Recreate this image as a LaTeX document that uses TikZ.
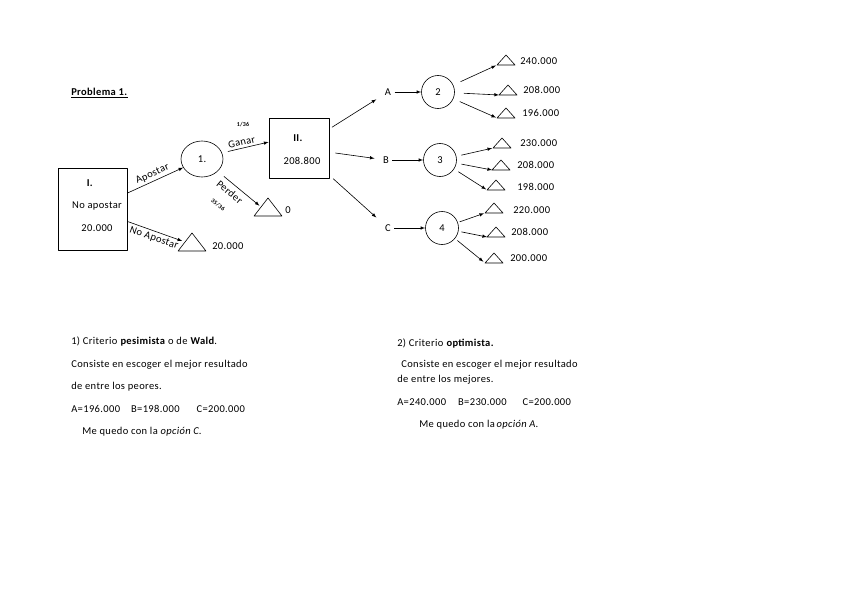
\documentclass[tikz,border=0pt]{standalone}
\usepackage{fontspec}
\setmainfont{Carlito}[LetterSpace=3.5]
\usetikzlibrary{shapes.geometric,positioning}
\tikzset{
  chance/.style={draw,circle,minimum size=33pt,inner sep=0pt},
  decbox/.style={draw,line width=0.9pt},
  endtri/.pic={
    \draw (-9,5) coordinate (-l) -- (9,5) coordinate (-r) -- (0,-5) coordinate (-a) -- cycle;
    \coordinate (-m) at (-4.5,0);
  },
  bigtri/.style={xscale=1.55,yscale=1.8},
  txt/.style={anchor=west,inner sep=0pt},
  tiny/.style={font=\fontsize{6}{7}\selectfont\bfseries,inner sep=0pt},
}
\begin{document}
\begin{tikzpicture}[x=1pt,y=-1pt,font=\fontsize{10.5}{12}\selectfont,>=latex,line width=0.6pt,line join=round]
	\useasboundingbox (0,0) rectangle (848,599);
	\node[txt] (title) at (71,93) {\underline{\textbf{Problema 1.}}};
	% first decision
	\node[decbox,minimum width=69pt,minimum height=82pt] (boxI) at (92.5,209) {};
	\node (lI) at (90,183) {\textbf{I.}};
	\node (lnoap) at (97,206) {No apostar};
	\node (lv1) at (97,228) {20.000};
	\node[draw,ellipse,minimum width=42pt,minimum height=36pt,inner sep=0pt] (c1) at (202,159) {1.};
	\pic[bigtri] (t0) at (268,207) {endtri};
	\node[txt] (v0) at (285,210) {0};
	\pic[bigtri] (tna) at (192,242) {endtri};
	\node[txt] (vna) at (212,246) {20.000};
	\draw[->] (boxI) -- node[sloped,above=-1pt] (lap) {Apostar} (c1);
	\draw[->,shorten >=3pt] (boxI) -- node[sloped,below=-1pt] (lnap) {No Apostar} (tna-m);
	% second decision
	\node[decbox,minimum width=60pt,minimum height=60pt] (boxII) at (299,148) {};
	\node (lII) at (298,138) {\textbf{II.}};
	\node (lv2) at (302,161) {208.800};
	\draw[->,shorten <=6pt] (c1.17) -- node[sloped,above=-1pt,pos=0.45] (lgan) {Ganar} (boxII.169);
	\node[tiny] (pgan) at (243,125) {1/36};
	\draw[->,shorten <=8pt,shorten >=2pt] (c1.-38) -- node[sloped,below=1pt,pos=0.4] (lper) {Perder} (t0-m);
	\node[tiny,rotate=-38] (pper) at (218,205) {35/36};
	\node (A) at (388,92) {A};
	\node (B) at (386,160) {B};
	\node (C) at (388,228) {C};
	\draw[->,shorten <=3pt,shorten >=6pt] (boxII) -- (A);
	\draw[->,shorten <=6pt,shorten >=5pt] (boxII) -- (B);
	\draw[->,shorten <=5pt,shorten >=7pt] (boxII) -- (C);
	\node[chance] (c2) at (438,92) {2};
	\node[chance] (c3) at (440,160) {3};
	\node[chance] (c4) at (442,228) {4};
	\draw[->] (A) -- (c2);
	\draw[->] (B) -- (c3);
	\draw[->] (C) -- (c4);
	% outcomes
	\pic (t21) at (506,60) {endtri};
	\pic (t22) at (508,90) {endtri};
	\pic (t23) at (506,113) {endtri};
	\pic (t31) at (502,143) {endtri};
	\pic (t32) at (501,165) {endtri};
	\pic (t33) at (496,185) {endtri};
	\pic (t41) at (494,208) {endtri};
	\pic (t42) at (496,232) {endtri};
	\pic (t43) at (494,258) {endtri};
	\node[txt] (v21) at (520,61) {240.000};
	\node[txt] (v22) at (523,90) {208.000};
	\node[txt] (v23) at (522,113) {196.000};
	\node[txt] (v31) at (520,143) {230.000};
	\node[txt] (v32) at (517,165) {208.000};
	\node[txt] (v33) at (517,187) {198.000};
	\node[txt] (v41) at (513,210) {220.000};
	\node[txt] (v42) at (511,232) {208.000};
	\node[txt] (v43) at (510,258) {200.000};
	\draw[->,shorten <=8pt,shorten >=1pt] (c2) -- (t21-l);
	\draw[->,shorten <=9pt] (c2) -- (t22-l);
	\draw[->,shorten <=7pt,shorten >=1pt] (c2) -- (t23-l);
	\draw[->,shorten <=5pt,shorten >=1pt] (c3) -- (t31-l);
	\draw[->,shorten <=5pt] (c3) -- (t32-l);
	\draw[->,shorten <=5pt,shorten >=1pt] (c3) -- (t33-l);
	\draw[->,shorten <=2pt,shorten >=1pt] (c4) -- (t41-l);
	\draw[->,shorten <=3pt] (c4) -- (t42-l);
	\draw[->,shorten <=3pt,shorten >=2pt] (c4) -- (t43-l);
	% criteria
	\node[txt] (p1) at (71,341) {1) Criterio \textbf{pesimista} o de \textbf{Wald}.};
	\node[txt] (p2) at (71,365) {Consiste en escoger el mejor resultado};
	\node[txt] (p3) at (71,387) {de entre los peores.};
	\node[txt] (p4) at (71,409) {A=196.000\hspace{11pt}B=198.000\hspace{17pt}C=200.000};
	\node[txt] (p5) at (82,432) {Me quedo con la \textit{opción C}.};
	\node[txt] (o1) at (397,343) {2) Criterio \textbf{optimista.}};
	\node[txt] (o2) at (401,365) {Consiste en escoger el mejor resultado};
	\node[txt] (o3) at (397,380) {de entre los mejores.};
	\node[txt] (o4) at (397,402) {A=240.000\hspace{12pt}B=230.000\hspace{16pt}C=200.000};
	\node[txt] (o5) at (419,425) {Me quedo con la\,\textit{opción A}.};
\end{tikzpicture}
\end{document}
